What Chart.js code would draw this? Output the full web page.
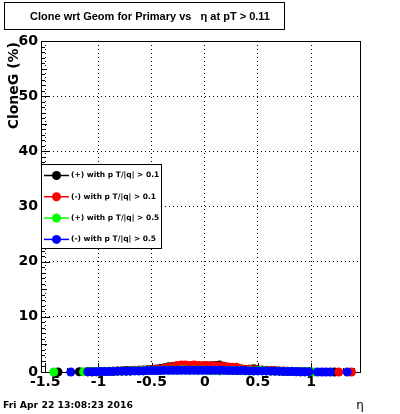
<!DOCTYPE html>
<html><head><meta charset="utf-8">
<script src="https://cdn.jsdelivr.net/npm/chart.js@4.4.1/dist/chart.umd.min.js"></script>
<style>html,body{margin:0;padding:0;background:#fff}canvas{display:block}</style>
</head><body>
<canvas id="c" width="400" height="414"></canvas>
<script>
const titleText = "Clone wrt Geom for Primary vs   \u03b7 at pT > 0.11";
const yTitle = "CloneG (%)";
const xTitle = "\u03b7";
const dateText = "Fri Apr 22 13:08:23 2016";
const xTicks = [-1.5, -1, -0.5, 0, 0.5, 1];
const yTicks = [0, 10, 20, 30, 40, 50, 60];
const seriesLabels = ["(+) with p T/|q| > 0.1", "(-) with p T/|q| > 0.1", "(+) with p T/|q| > 0.5", "(-) with p T/|q| > 0.5"];
const seriesColors = ["#000000", "#ff0000", "#00ff00", "#0000ff"];

const eta = [
 -1.46,-1.42,-1.38,-1.34,-1.30,-1.26,-1.22,-1.18,-1.14,-1.10,
 -1.06,-1.02,-0.98,-0.94,-0.90,-0.86,-0.82,-0.78,-0.74,-0.70,
 -0.66,-0.62,-0.58,-0.54,-0.50,-0.46,-0.42,-0.38,-0.34,-0.30,
 -0.26,-0.22,-0.18,-0.14,-0.10,-0.06,-0.02,0.02,0.06,0.10,
 0.14,0.18,0.22,0.26,0.30,0.34,0.38,0.42,0.46,0.50,
 0.54,0.58,0.62,0.66,0.70,0.74,0.78,0.82,0.86,0.90,
 0.94,0.98,1.02,1.06,1.10,1.14,1.18,1.22,1.26,1.30,
 1.34,1.38,1.42];

const n = null;
// (+) pT > 0.1  (black)
const posLow = [
 n,n,0,n,n,n,n,0.05,n,0.05,
 0.05,0.1,0.1,0.1,0.15,0.15,0.2,0.2,0.25,0.25,
 0.3,0.3,0.35,0.4,0.45,0.55,0.65,0.75,0.95,1.0,
 1.05,1.1,1.15,1.15,1.1,1.15,1.1,1.1,1.15,1.2,
 1.25,1.05,0.85,0.8,0.7,0.55,0.45,0.5,0.6,0.35,
 0.3,0.25,0.25,0.2,0.15,0.15,0.1,0.1,0.05,0.05,
 0.05,n,n,n,n,n,n,0,n,n,
 n,n,n];
// (-) pT > 0.1  (red)
const negLow = [
 n,n,n,n,n,n,n,n,n,0.05,
 0.05,0.1,0.1,0.1,0.1,0.15,0.15,0.2,0.2,0.2,
 0.25,0.3,0.3,0.35,0.4,0.45,0.5,0.7,0.85,0.9,
 1.2,1.25,1.25,1.2,1.25,1.2,1.15,1.2,1.15,1.1,
 1.1,1.0,0.9,0.85,0.85,0.55,0.5,0.5,0.4,0.35,
 0.35,0.3,0.3,0.25,0.2,0.2,0.15,0.15,0.1,0.1,
 0.1,0.05,n,n,n,n,n,n,0,n,
 n,0,n];
// (+) pT > 0.5  (green)
const posHigh = [
 n,0,n,n,n,n,n,n,0.05,0.05,
 0.1,0.05,0.1,0.15,0.1,0.15,0.15,0.2,0.15,0.2,
 0.25,0.2,0.25,0.3,0.25,0.3,0.25,0.35,0.3,0.35,
 0.3,0.4,0.35,0.3,0.35,0.3,0.35,0.3,0.25,0.3,
 0.2,0.3,0.25,0.3,0.25,0.3,0.2,0.25,0.2,0.25,
 0.3,0.2,0.2,0.15,0.2,0.1,0.15,0.1,0.1,0.05,
 0.1,0.05,0,n,n,n,n,n,n,n,
 n,n,n];
// (-) pT > 0.5  (blue)
const negHigh = [
 n,n,n,n,n,0,n,n,n,0.05,
 0.05,0.05,0.1,0.1,0.1,0.1,0.15,0.15,0.15,0.15,
 0.2,0.2,0.2,0.25,0.25,0.25,0.25,0.3,0.3,0.3,
 0.3,0.3,0.3,0.3,0.3,0.3,0.3,0.3,0.3,0.3,
 0.3,0.3,0.25,0.25,0.25,0.25,0.25,0.2,0.2,0.2,
 0.2,0.2,0.15,0.15,0.15,0.1,0.1,0.1,0.1,0.05,
 0.05,0.05,n,0,0,0,0,n,n,n,
 0,n,n];

const seriesValues = [posLow, negLow, posHigh, negHigh];
const FONT = "DejaVu Sans";
const TITLE_FONT = "Liberation Sans";

function toPoints(vals) {
  return eta.map((x, i) => ({ x: x, y: vals[i] })).filter(p => p.y !== null);
}

const datasets = seriesValues.map((vals, i) => ({
  label: seriesLabels[i],
  data: toPoints(vals),
  backgroundColor: seriesColors[i],
  borderColor: seriesColors[i],
  borderWidth: 0,
  pointRadius: 4.5,
  pointHoverRadius: 4.5,
  pointStyle: "circle",
  showLine: false,
  clip: false,
  order: 3 - i
}));

const rootDecor = {
  id: "rootDecor",
  beforeDraw(chart) {
    const ctx = chart.ctx;
    ctx.save();
    ctx.fillStyle = "#fff";
    ctx.fillRect(0, 0, chart.width, chart.height);
    ctx.restore();
  },
  beforeDatasetsDraw(chart) {
    const { ctx, chartArea: a, scales: { x, y } } = chart;
    ctx.save();
    ctx.strokeStyle = "#000";
    ctx.lineWidth = 1;
    ctx.setLineDash([]);
    ctx.strokeRect(Math.round(a.left) + 0.5, Math.round(a.top) + 0.5, Math.round(a.right - a.left), Math.round(a.bottom - a.top));
    ctx.beginPath();
    for (let v = 0; v <= 60; v += 1) {
      const py = Math.round(y.getPixelForValue(v)) + 0.5;
      const len = (v % 10 === 0) ? 9 : (v % 5 === 0 ? 6 : 4);
      ctx.moveTo(a.left, py); ctx.lineTo(a.left + len, py);
    }
    for (let k = -15; k <= 14; k++) {
      const v = k / 10;
      const px = Math.round(x.getPixelForValue(v)) + 0.5;
      const len = (k % 5 === 0) ? 9 : 4;
      ctx.moveTo(px, a.bottom); ctx.lineTo(px, a.bottom - len);
    }
    ctx.stroke();
    ctx.restore();
  },
  afterDatasetsDraw(chart) {
    const { ctx, chartArea: a } = chart;
    ctx.save();
    ctx.fillStyle = "#fff";
    ctx.fillRect(4.5, 2.5, 280, 27);
    ctx.strokeStyle = "#000";
    ctx.lineWidth = 1;
    ctx.strokeRect(4.5, 2.5, 280, 27);
    ctx.fillStyle = "#000";
    ctx.font = "bold 11px '" + TITLE_FONT + "'";
    ctx.textAlign = "center";
    ctx.textBaseline = "middle";
    ctx.fillText(titleText, 150, 17);

    ctx.save();
    ctx.translate(14, a.top + 1);
    ctx.rotate(-Math.PI / 2);
    ctx.font = "bold 14px '" + FONT + "'";
    ctx.textAlign = "right";
    ctx.textBaseline = "middle";
    ctx.fillText(yTitle, 0, 0);
    ctx.restore();

    ctx.font = "bold 9.3px '" + FONT + "'";
    ctx.textAlign = "left";
    ctx.textBaseline = "middle";
    ctx.fillText(dateText, 3, 406);

    ctx.font = "12px '" + FONT + "'";
    ctx.textAlign = "center";
    ctx.textBaseline = "middle";
    ctx.fillText(xTitle, 360, 406);

    const lx = 41, ly = 164, lw = 120, lh = 84;
    ctx.fillStyle = "#fff";
    ctx.fillRect(lx + 0.5, ly + 0.5, lw, lh);
    ctx.strokeStyle = "#000";
    ctx.strokeRect(lx + 0.5, ly + 0.5, lw, lh);
    ctx.font = "bold 7.5px '" + FONT + "'";
    ctx.textAlign = "left";
    ctx.textBaseline = "middle";
    chart.data.datasets.forEach((ds, i) => {
      const cy = 175.5 + i * 21.3;
      ctx.strokeStyle = ds.backgroundColor;
      ctx.lineWidth = 1.5;
      ctx.beginPath();
      ctx.moveTo(44, cy); ctx.lineTo(69, cy);
      ctx.stroke();
      ctx.fillStyle = ds.backgroundColor;
      ctx.beginPath();
      ctx.arc(56.5, cy, 4.5, 0, Math.PI * 2);
      ctx.fill();
      ctx.fillStyle = "#000";
      ctx.fillText(ds.label, 71, cy);
    });
    ctx.restore();
  }
};

const tickFont = { family: FONT, weight: "bold", size: 14 };

new Chart(document.getElementById("c"), {
  type: "scatter",
  data: { datasets: datasets },
  options: {
    responsive: false,
    animation: false,
    devicePixelRatio: 1,
    layout: { padding: { left: 0, right: 40, top: 41, bottom: 0 } },
    plugins: { legend: { display: false }, tooltip: { enabled: false }, title: { display: false } },
    scales: {
      x: {
        type: "linear", min: -1.54, max: 1.46,
        afterBuildTicks(s) { s.ticks = xTicks.map(v => ({ value: v })); },
        afterFit(s) { s.height = 42; },
        grid: { color: "#000", lineWidth: 1, drawTicks: false },
        border: { display: false, dash: [1, 3] },
        ticks: { padding: 2, color: "#000", font: tickFont, maxRotation: 0, autoSkip: false, callback: v => String(v) }
      },
      y: {
        type: "linear", min: 0, max: 60,
        afterBuildTicks(s) { s.ticks = yTicks.map(v => ({ value: v })); },
        afterFit(s) { s.width = 41; },
        grid: { color: "#000", lineWidth: 1, drawTicks: false },
        border: { display: false, dash: [1, 3] },
        ticks: { padding: 3, color: "#000", font: tickFont, autoSkip: false, callback: v => String(v) }
      }
    }
  },
  plugins: [rootDecor]
});
</script>
</body></html>
